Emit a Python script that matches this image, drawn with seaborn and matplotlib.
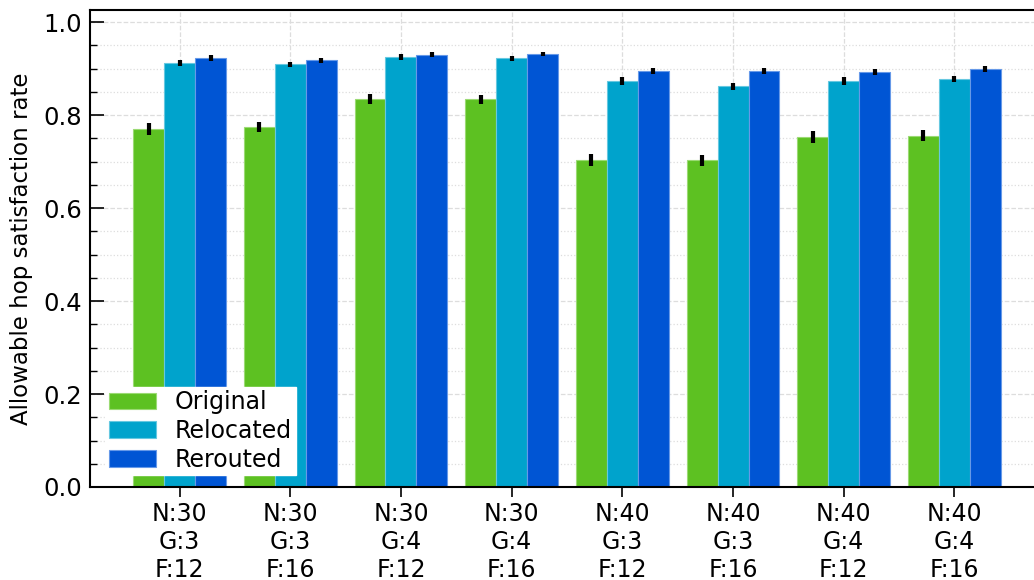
import matplotlib
matplotlib.use("Agg")
import matplotlib.pyplot as plt
from matplotlib.ticker import MultipleLocator
import numpy as np
import pandas as pd
import seaborn as sns

# Configurations: nodes (N), groups (G), flows (F)
configs = ["N:30\nG:3\nF:12", "N:30\nG:3\nF:16", "N:30\nG:4\nF:12", "N:30\nG:4\nF:16",
           "N:40\nG:3\nF:12", "N:40\nG:3\nF:16", "N:40\nG:4\nF:12", "N:40\nG:4\nF:16"]
methods = ["Original", "Relocated", "Rerouted"]

original_mean = [0.770, 0.774, 0.834, 0.834, 0.703, 0.703, 0.753, 0.756]
relocated_mean = [0.912, 0.909, 0.925, 0.922, 0.873, 0.862, 0.873, 0.878]
rerouted_mean = [0.923, 0.918, 0.930, 0.931, 0.895, 0.895, 0.893, 0.899]

original_err = [0.012, 0.011, 0.011, 0.010, 0.013, 0.012, 0.012, 0.011]
relocated_err = [0.007, 0.006, 0.007, 0.006, 0.008, 0.008, 0.008, 0.007]
rerouted_err = [0.006, 0.005, 0.006, 0.005, 0.007, 0.007, 0.007, 0.006]

colors = ["#5DC122", "#00A3CC", "#0055D4"]
edge_colors = ["#9BDA74", "#66C8E0", "#6699E8"]

means = [original_mean, relocated_mean, rerouted_mean]
errs = [original_err, relocated_err, rerouted_err]

df = pd.DataFrame({
    "config": np.tile(configs, len(methods)),
    "method": np.repeat(methods, len(configs)),
    "rate": np.concatenate(means),
    "err": np.concatenate(errs),
})

sns.set_style("white")
plt.rcParams["font.family"] = ["DejaVu Sans"]
plt.rcParams.update({
    "text.color": "black",
    "axes.labelcolor": "black",
    "xtick.color": "black",
    "ytick.color": "black",
})

fig = plt.figure(figsize=(10.34, 5.8), dpi=100)
ax = fig.add_axes([90 / 1034, 93 / 580, 954 / 1034, 477 / 580])

sns.barplot(data=df, x="config", y="rate", hue="method", order=configs,
            hue_order=methods, palette=colors, errorbar=None, width=0.84,
            saturation=1, ax=ax, zorder=2)

# Lighter outline on each bar and error bars at the bar centres
bar_containers = list(ax.containers)
for i, cont in enumerate(bar_containers):
    sub = df[df["method"] == methods[i]].set_index("config").loc[configs]
    xs = []
    for p in cont.patches:
        p.set_edgecolor(edge_colors[i])
        p.set_linewidth(0.8)
        xs.append(p.get_x() + p.get_width() / 2)
    ax.errorbar(xs, sub["rate"].values, yerr=sub["err"].values, fmt="none",
                ecolor="black", elinewidth=3, capsize=0, zorder=3)

ax.set_xlim(-0.81, 7.81)
ax.set_ylim(0, 1.026)
ax.set_xlabel("")
ax.set_ylabel("Allowable hop satisfaction rate", fontsize=16.5, labelpad=7)

ax.yaxis.set_major_locator(MultipleLocator(0.2))
ax.yaxis.set_minor_locator(MultipleLocator(0.05))
ax.tick_params(axis="y", which="major", direction="in", length=10, width=1.2,
               labelsize=17.5, left=True, pad=6)
ax.tick_params(axis="y", which="minor", direction="in", length=5, width=1, left=True)
ax.tick_params(axis="x", which="major", direction="out", length=7, width=1.2,
               labelsize=17, bottom=True, pad=4)

ax.set_axisbelow(True)
ax.grid(True, axis="y", which="major", linestyle="--", color="#dddddd", linewidth=0.9)
ax.grid(True, axis="y", which="minor", linestyle=":", color="#dddddd", linewidth=0.9)
ax.grid(True, axis="x", which="major", linestyle="--", color="#dddddd", linewidth=0.9)

for s in ax.spines.values():
    s.set_color("black")
    s.set_linewidth(1.5)

handles, labels = ax.get_legend_handles_labels()
for h, ec in zip(handles, edge_colors):
    h.set_edgecolor(ec)
    h.set_linewidth(0.8)
leg = ax.legend(handles, labels, loc="lower left", bbox_to_anchor=(0.016, 0.025),
                fontsize=17, frameon=True, fancybox=False, framealpha=1,
                edgecolor="white", handlelength=2.0, handleheight=0.7,
                labelspacing=0.2, handletextpad=0.8, borderpad=0.15,
                borderaxespad=0.0)

fig.savefig("out.png", dpi=100)
